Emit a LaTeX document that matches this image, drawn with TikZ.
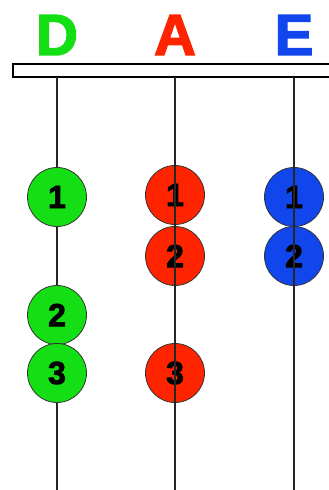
\documentclass[tikz,border=0pt]{standalone}
\usepackage{fontspec}
\setmainfont{Liberation Sans}
\newfontfamily\heavyfont[FakeBold=2.5]{Liberation Sans Bold}
\usetikzlibrary{calc}

\definecolor{beadgreen}{RGB}{20,222,20}
\definecolor{beadred}{RGB}{255,36,0}
\definecolor{beadblue}{RGB}{16,70,235}

\begin{document}
\begin{tikzpicture}[x=1pt, y=-1pt,
	bead/.style={circle, draw=black!80, line width=0.8pt, minimum size=59pt, inner sep=0pt,
		font=\fontsize{32}{32}\heavyfont},
	head/.style={font=\fontsize{58}{58}\heavyfont},
	wire/.style={line width=1.5pt, black!85}]
	\useasboundingbox (0, 0) rectangle (329, 490);
	\def\xd{57}
	\def\xa{175}
	\def\xe{294}

	% headings
	\node[head, text=beadgreen] (hd) at (\xd, 35) {D};
	\node[head, text=beadred] (ha) at (\xa, 35) {A};
	\node[head, text=beadblue] (he) at (\xe, 35) {E};

	% bar
	\draw[line width=1.5pt] (329, 64) -- (13, 64) -- (13, 77) -- (329, 77);

	% top and bottom ends of the wires
	\foreach \c/\x in {d/\xd, a/\xa, e/\xe} {
			\coordinate (\c top) at (\x, 77);
			\coordinate (\c bot) at (\x, 490);
		}

	\draw[wire] (dtop) -- (dbot);

	% beads
	\foreach \y [count = \i] in {197, 315, 373} {
			\node[bead, fill=beadgreen] (d\i) at (\xd, \y) {\i};
		}
	\foreach \y [count = \i] in {195, 256, 373} {
			\node[bead, fill=beadred] (a\i) at (\xa, \y) {\i};
		}
	\foreach \y [count = \i] in {197, 256} {
			\node[bead, fill=beadblue] (e\i) at (\xe, \y) {\i};
		}

	\draw[wire] (atop) -- (abot);
	\draw[wire] (etop) -- (ebot);
\end{tikzpicture}
\end{document}
